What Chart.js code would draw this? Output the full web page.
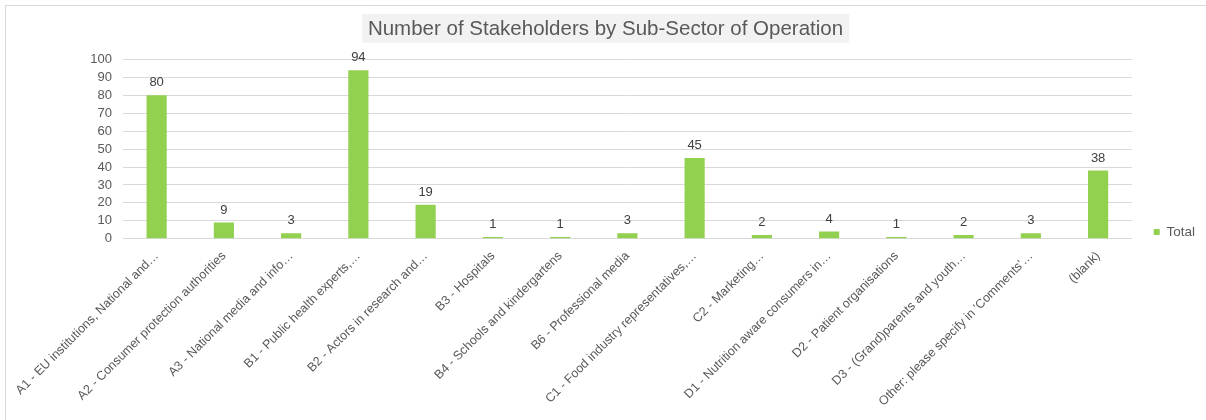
<!DOCTYPE html>
<html>
<head>
<meta charset="utf-8">
<script src="https://cdn.jsdelivr.net/npm/chart.js@4.4.1/dist/chart.umd.min.js"></script>
<style>
    html, body { margin: 0; padding: 0; background: #ffffff; overflow: hidden; }
    #chartFrame {
        position: absolute;
        left: 5px;
        top: 5px;
        width: 1208px;
        height: 414px;
        border-left: 1px solid #d9d9d9;
        border-top: 1px solid #d9d9d9;
    }
</style>
</head>
<body>
<div id="chartFrame">
    <canvas id="stakeholderChart" width="1208" height="414"></canvas>
</div>
<script>
// Sub-sectors and the number of stakeholders in each
const subSectors = [
    "A1 - EU institutions, National and\u2026",
    "A2 - Consumer protection authorities",
    "A3 - National media and info\u2026",
    "B1 - Public health experts,\u2026",
    "B2 - Actors in research and\u2026",
    "B3 - Hospitals",
    "B4 - Schools and kindergartens",
    "B6 - Professional media",
    "C1 - Food industry representatives,\u2026",
    "C2 - Marketing\u2026",
    "D1 - Nutrition aware consumers in\u2026",
    "D2 - Patient organisations",
    "D3 - (Grand)parents and youth\u2026",
    "Other: please specify in 'Comments'\u2026",
    "(blank)"
];
const totals = [80, 9, 3, 94, 19, 1, 1, 3, 45, 2, 4, 1, 2, 3, 38];
const seriesName = "Total";
const chartTitle = "Number of Stakeholders by Sub-Sector of Operation";
const yTicks = [0, 10, 20, 30, 40, 50, 60, 70, 80, 90, 100];

const FONT = "'Liberation Sans', Arial, sans-serif";
const TITLE_SIZE = 20.5;

// grey box behind the title text
const titleBox = {
    id: 'titleBox',
    beforeDraw(chart) {
        let block = chart.titleBlock;
        if (!block) return;
        let ctx = chart.ctx;
        ctx.save();
        ctx.font = TITLE_SIZE + "px " + FONT;
        let w = ctx.measureText(chartTitle).width + 12;
        let cx = (block.left + block.right) / 2;
        let cy = block.top + block.options.padding.top + TITLE_SIZE * 0.6 - 0.7;
        ctx.fillStyle = "#f2f2f2";
        ctx.fillRect(cx - w / 2, cy - 14.3, w, 28.6);
        ctx.restore();
    }
};

// push the legend down next to the lower part of the plot
const legendNudge = {
    id: 'legendNudge',
    afterLayout(chart) {
        let lg = chart.legend;
        if (!lg) return;
        lg.top += 19;
        lg.bottom += 19;
    }
};

// value on top of every bar
const barValues = {
    id: 'barValues',
    afterDatasetsDraw(chart) {
        let ctx = chart.ctx;
        let meta = chart.getDatasetMeta(0);
        ctx.save();
        ctx.font = "13px " + FONT;
        ctx.fillStyle = "#404040";
        ctx.textAlign = "center";
        ctx.textBaseline = "bottom";
        meta.data.forEach((bar, i) => {
            ctx.fillText(String(chart.data.datasets[0].data[i]), bar.x, bar.y - 6);
        });
        ctx.restore();
    }
};

function draw_chart() {
    const ctx = document.getElementById('stakeholderChart').getContext('2d');
    const stakeholderChart = new Chart(ctx, {
        type: 'bar',
        data: {
            labels: subSectors,
            datasets: [{
                label: seriesName,
                data: totals,
                backgroundColor: "#92d050",
                borderWidth: 0,
                barPercentage: 0.3,
                categoryPercentage: 1.0
            }]
        },
        options: {
            responsive: false,
            animation: false,
            layout: {
                padding: { left: 0, right: 9, top: 0, bottom: 0 }
            },
            scales: {
                x: {
                    grid: { display: false },
                    border: { display: false },
                    ticks: {
                        autoSkip: false,
                        minRotation: 45,
                        maxRotation: 45,
                        padding: 2,
                        color: "#595959",
                        font: { family: FONT, size: 12.5 }
                    },
                    afterFit: (scale) => { scale.height = 181.3; }
                },
                y: {
                    min: 0,
                    max: 100,
                    afterBuildTicks: (scale) => {
                        scale.ticks = yTicks.map(v => ({ value: v }));
                    },
                    grid: {
                        color: "#d9d9d9",
                        lineWidth: 1,
                        drawTicks: false
                    },
                    border: { display: false },
                    ticks: {
                        autoSkip: false,
                        padding: 11,
                        color: "#595959",
                        font: { family: FONT, size: 13 }
                    },
                    afterFit: (scale) => { scale.width = 117; }
                }
            },
            plugins: {
                title: {
                    display: true,
                    text: chartTitle,
                    color: "#595959",
                    font: { family: FONT, size: TITLE_SIZE, weight: 'normal', lineHeight: 1.2 },
                    padding: { top: 10.7, bottom: 18.2 }
                },
                legend: {
                    position: 'right',
                    labels: {
                        boxWidth: 6,
                        boxHeight: 6,
                        padding: 22,
                        color: "#595959",
                        font: { family: FONT, size: 13.5 }
                    }
                },
                tooltip: { enabled: false }
            }
        },
        plugins: [titleBox, legendNudge, barValues]
    });
}

draw_chart();
</script>
</body>
</html>
